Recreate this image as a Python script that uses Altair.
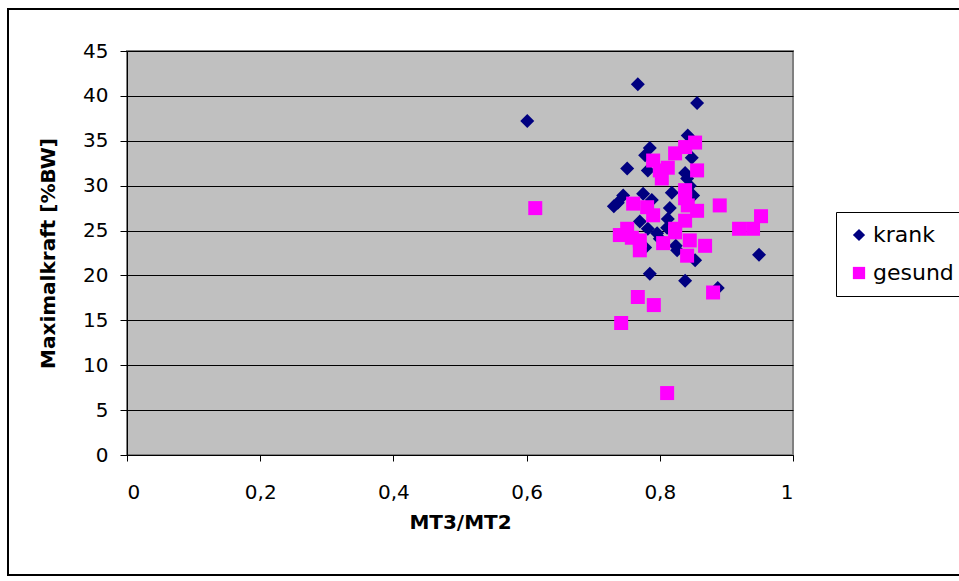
import altair as alt
import pandas as pd

krank_x = [0.601, 0.767, 0.856, 0.842, 0.785, 0.778, 0.751, 0.782, 0.848, 0.838,
           0.841, 0.737, 0.745, 0.775, 0.788, 0.818, 0.815, 0.812, 0.770, 0.782,
           0.811, 0.850, 0.796, 0.826, 0.853, 0.785, 0.838, 0.778, 0.949, 0.887,
           0.731, 0.845, 0.800, 0.824]
krank_y = [37.2, 41.3, 39.2, 35.6, 34.2, 33.4, 31.9, 31.7, 33.1, 31.4,
           30.8, 28.1, 28.9, 29.1, 28.4, 29.2, 27.5, 26.3, 26.0, 25.2,
           25.3, 28.9, 24.7, 22.8, 21.7, 20.2, 19.4, 23.1, 22.3, 18.6,
           27.7, 30.0, 24.1, 23.3]

gesund_x = [0.613, 0.811, 0.742, 0.791, 0.767, 0.880, 0.740, 0.758, 0.770, 0.805,
            0.823, 0.845, 0.868, 0.841, 0.751, 0.823, 0.760, 0.781, 0.790, 0.842,
            0.856, 0.838, 0.838, 0.890, 0.919, 0.940, 0.952, 0.803, 0.800, 0.812,
            0.856, 0.790, 0.823, 0.838, 0.853, 0.770, 0.838]
gesund_y = [27.5, 6.9, 14.7, 16.7, 17.6, 18.1, 24.5, 24.2, 22.8, 23.6,
            24.8, 23.9, 23.3, 22.2, 25.2, 25.2, 28.0, 27.6, 26.7, 27.8,
            27.2, 26.1, 29.5, 27.8, 25.2, 25.2, 26.6, 30.8, 31.7, 32.0,
            31.7, 32.8, 33.6, 34.3, 34.8, 23.9, 28.6]

series_names = ["krank", "gesund"]
x_ticks = [0, 0.2, 0.4, 0.6, 0.8, 1]
y_ticks = [0, 5, 10, 15, 20, 25, 30, 35, 40, 45]

rows = []
i = 0
for xv, yv in zip(krank_x, krank_y):
    rows.append({"x": xv, "y": yv, "series": "krank", "ord": i}); i += 1
for xv, yv in zip(gesund_x, gesund_y):
    rows.append({"x": xv, "y": yv, "series": "gesund", "ord": i}); i += 1
df = pd.DataFrame(rows)

FONT = "DejaVu Sans"

points = alt.Chart(df).mark_point(filled=True, size=196, opacity=1, strokeWidth=0).encode(
    x=alt.X("x:Q",
            scale=alt.Scale(domain=[0, 1], nice=False, zero=False),
            axis=alt.Axis(values=x_ticks, format="~g",
                          labelExpr="replace(datum.label, '.', ',')",
                          title="MT3/MT2", grid=False,
                          tickSize=6, labelPadding=21, titlePadding=10)),
    y=alt.Y("y:Q",
            scale=alt.Scale(domain=[0, 45], nice=False),
            axis=alt.Axis(values=y_ticks, title="Maximalkraft [%BW]", grid=True,
                          tickSize=7, labelPadding=12, titlePadding=24)),
    color=alt.Color("series:N",
                    scale=alt.Scale(domain=series_names, range=["#000080", "#FF00FF"]),
                    legend=alt.Legend(title=None)),
    shape=alt.Shape("series:N",
                    scale=alt.Scale(domain=series_names, range=["diamond", "square"]),
                    legend=alt.Legend(title=None)),
    order=alt.Order("ord:Q"),
)

frame = alt.Chart(pd.DataFrame({"a": [0]})).mark_rect(
    fill=None, stroke="black", strokeWidth=2
).encode(
    x=alt.value(-119), x2=alt.value(845),
    y=alt.value(-42), y2=alt.value(524),
)

chart = alt.layer(points, frame).properties(
    width=666, height=404,
    autosize=alt.AutoSizeParams(type="none"),
    padding={"left": 127, "top": 51, "right": 166, "bottom": 126},
    background="white",
).configure_view(
    fill="#C0C0C0", stroke="#808080", strokeWidth=2
).configure_axis(
    labelFont=FONT, titleFont=FONT, labelFontSize=20, titleFontSize=20,
    labelColor="black", titleColor="black", titleFontWeight="bold",
    domainColor="black", tickColor="black", gridColor="#000000", gridWidth=1,
    domainWidth=1, tickWidth=1,
).configure_legend(
    orient="none", legendX=709, legendY=161,
    strokeColor="black", strokeWidth=1, fillColor="white",
    padding=12, labelFont=FONT, labelFontSize=22, labelColor="black",
    symbolSize=150, rowPadding=16, labelOffset=3, symbolStrokeWidth=0,
)

chart.save("out.html", embed_options={"renderer": "svg", "actions": False})
